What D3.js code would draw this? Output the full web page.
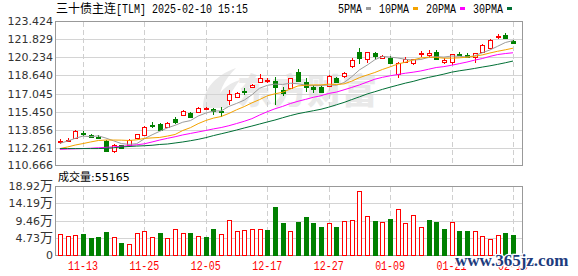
<!DOCTYPE html>
<html>
<head>
<meta charset="utf-8">
<script src="https://cdn.jsdelivr.net/npm/d3@7"></script>
<style>
  body { margin: 0; background: #fff; }
  svg { display: block; }
</style>
</head>
<body>
<svg></svg>
<script>
// trading days shown
var dates = ["11-08","11-11","11-12","11-13","11-14","11-15","11-18","11-19","11-20","11-21",
    "11-22","11-25","11-26","11-27","11-28","11-29","12-02","12-03","12-04","12-05",
    "12-06","12-09","12-10","12-11","12-12","12-13","12-16","12-17","12-18","12-19",
    "12-20","12-23","12-24","12-25","12-26","12-27","12-30","12-31","01-02","01-03",
    "01-06","01-07","01-08","01-09","01-10","01-13","01-14","01-15","01-16","01-17",
    "01-20","01-21","01-22","01-23","01-24","01-27","02-05","02-06","02-07","02-10"];

var openP = [112.80,112.93,113.17,113.61,113.35,113.22,112.89,111.98,112.47,112.51,
    113.10,113.39,114.29,114.32,114.14,114.84,115.15,115.37,115.44,115.68,
    115.65,115.52,116.47,116.71,117.28,117.64,118.08,118.21,118.17,117.35,
    117.55,118.96,118.08,117.64,117.64,117.70,118.44,118.58,119.49,120.72,
    120.05,120.58,120.14,120.14,118.73,119.82,119.70,120.55,120.43,120.67,
    119.82,119.84,120.54,120.43,120.23,120.67,121.07,121.99,122.19,121.69];
var highP = [113.00,113.09,113.83,113.74,113.48,113.35,112.95,112.60,112.51,113.00,
    113.48,114.18,114.54,114.49,114.54,114.98,115.55,115.46,115.86,115.90,
    115.74,115.86,117.35,117.20,117.53,117.92,118.73,118.38,118.52,117.64,
    118.41,119.17,118.44,117.79,117.70,118.63,118.54,118.96,120.14,121.02,
    120.72,120.67,120.46,120.34,119.84,120.23,120.11,120.81,120.87,120.87,
    120.14,120.52,120.72,120.58,120.61,121.36,121.80,122.25,122.34,121.75];
var lowP = [112.60,112.78,113.13,113.30,113.13,113.04,111.94,111.85,112.25,112.34,
    113.04,113.35,114.01,113.74,114.10,114.40,115.11,114.93,115.30,115.59,
    115.15,115.00,116.03,116.65,116.91,117.57,118.06,117.94,116.03,116.85,
    117.53,118.08,117.20,117.06,117.18,117.66,117.97,118.44,119.31,119.61,
    119.70,119.99,120.08,119.61,118.44,119.70,119.55,120.28,120.23,119.99,
    119.64,119.55,120.34,120.14,119.70,120.61,121.05,121.81,121.84,121.37];
var closeP = [112.83,112.96,113.74,113.48,113.26,113.16,111.98,112.51,112.29,112.91,
    113.44,114.14,114.26,113.83,114.45,114.58,115.48,114.98,115.79,115.79,
    115.50,115.49,116.97,117.11,117.25,117.82,118.38,118.25,117.64,117.11,
    118.38,118.14,117.64,117.41,117.20,118.58,118.03,118.82,119.99,120.19,
    120.67,120.37,120.34,119.70,119.75,120.10,120.05,120.58,120.63,120.05,
    119.95,120.49,120.50,120.28,120.58,121.31,121.75,122.10,121.90,121.46];

// moving averages as drawn
var ma5 = [112.66,112.86,113.10,113.30,113.25,113.32,113.12,112.88,112.64,112.57,
    112.63,113.06,113.41,113.72,114.02,114.25,114.52,114.66,115.06,115.32,
    115.51,115.51,115.91,116.17,116.46,116.93,117.51,117.76,117.87,117.84,
    117.95,117.90,117.78,117.74,117.75,117.79,117.77,118.01,118.52,119.12,
    119.54,120.01,120.31,120.25,120.17,120.05,119.99,120.04,120.22,120.28,
    120.25,120.34,120.32,120.25,120.36,120.63,120.88,121.20,121.53,121.70];
var ma10 = [112.20,112.34,112.51,112.64,112.78,112.91,112.95,112.95,112.94,112.91,
    112.97,113.09,113.14,113.18,113.30,113.44,113.79,114.04,114.39,114.67,
    114.88,115.02,115.29,115.61,115.89,116.22,116.51,116.84,117.02,117.15,
    117.44,117.71,117.77,117.80,117.80,117.87,117.84,117.89,118.13,118.44,
    118.67,118.89,119.16,119.39,119.64,119.80,120.00,120.17,120.24,120.22,
    120.15,120.16,120.18,120.24,120.32,120.44,120.61,120.76,120.89,121.03];
var ma20 = [112.13,112.16,112.18,112.20,112.23,112.27,112.31,112.35,112.40,112.46,
    112.53,112.62,112.78,112.95,113.10,113.24,113.40,113.53,113.66,113.79,
    113.93,114.05,114.21,114.40,114.60,114.83,115.15,115.44,115.70,115.91,
    116.16,116.36,116.53,116.71,116.85,117.05,117.17,117.37,117.58,117.80,
    118.05,118.30,118.47,118.60,118.72,118.83,118.92,119.03,119.18,119.33,
    119.41,119.53,119.67,119.81,119.98,120.12,120.31,120.47,120.56,120.63];
var ma30 = [112.20,112.20,112.20,112.20,112.20,112.20,112.22,112.27,112.34,112.38,
    112.42,112.45,112.49,112.56,112.60,112.69,112.78,112.89,113.01,113.16,
    113.34,113.50,113.66,113.83,114.01,114.18,114.36,114.54,114.71,114.91,
    115.10,115.27,115.40,115.53,115.66,115.84,116.05,116.26,116.51,116.75,
    117.00,117.20,117.41,117.60,117.78,117.96,118.11,118.30,118.46,118.60,
    118.75,118.92,119.04,119.14,119.25,119.37,119.48,119.61,119.75,119.90];

// volume and its colour (1 = red, 0 = green)
var volume = [57600,51300,54000,57600,46600,49400,63100,48500,32900,30200,
    60300,65800,48500,60300,45800,71300,60300,60300,52100,49400,
    71300,57600,96000,65800,67700,70500,71300,68500,131600,87700,
    65800,90500,104200,88600,76800,86900,76800,92400,96000,174700,
    106100,93200,90500,98700,125300,87700,109700,76000,96000,90500,
    71300,90500,65800,65800,65800,51300,43000,54000,60300,55165];
var volUp = [1,1,1,0,0,0,0,1,0,1, 1,1,1,0,1,1,1,0,1,0,
    0,1,1,1,1,1,1,0,0,0, 1,0,0,0,0,1,0,1,1,1,
    1,0,1,0,1,1,1,1,0,0, 0,1,0,0,1,1,1,1,0,0];

var priceTicks = [123.424,121.829,120.234,118.640,117.045,115.450,113.856,112.261,110.666];
var volTicks = [0,47300,94600,141900,189200];
var volTickLabels = ["0","4.73","9.46","14.19","18.92"];
var dateTicks = ["11-13","11-25","12-05","12-17","12-27","01-09","01-21","02-10"];
var maNames = ["5PMA","10PMA","20PMA","30PMA"];

window.onload = function () {

    var svg = d3.select("svg").attr("width", 578).attr("height", 276);

    var red = "#ff0000", green = "#008000";
    var maColors = ["#9c9c9c", "#f4a300", "#ff00ff", "#006f35"];

    // panel geometry
    var left = 55.5, right = 522.5;
    var pTop = 21, pBottom = 166, vTop = 186, vBottom = 255;

    var x = d3.scalePoint().domain(dates).range([59.9, 513]);
    var y = d3.scaleLinear().domain([110.666, 123.424]).range([pBottom, pTop]);
    var yv = d3.scaleLinear().domain([0, 189200]).range([vBottom, vTop]);

    var px = function (v) { return Math.round(v) + 0.5; };
    var idx = d3.range(dates.length);

    // mono text that mimics the narrow bitmap font
    var mono = function (sel, str, xx, yy, color) {
        return sel.append("text")
            .attr("x", xx).attr("y", yy)
            .attr("textLength", str.length * 6)
            .attr("lengthAdjust", "spacingAndGlyphs")
            .style("font-family", "Liberation Mono")
            .style("font-size", "12px")
            .style("fill", color || "#000")
            .text(str);
    };

    // faint logo watermark
    var logo = svg.append("g").style("fill", "#e9e9e9");
    logo.append("path")
        .attr("d", "M203,108 C203,90 214,76 236,68 C224,80 218,92 218,108 Z M214,108 C216,94 226,84 240,80 C232,90 228,98 228,108 Z");
    logo.append("text")
        .attr("x", 237).attr("y", 104)
        .style("font-family", "Noto Sans CJK SC")
        .style("font-weight", 900)
        .style("font-size", "35px")
        .text("东方财富");

    // horizontal grid
    svg.selectAll(".pgrid")
        .data(priceTicks.slice(1, -1))
        .enter().append("line")
        .attr("x1", left).attr("x2", right)
        .attr("y1", function (d) { return px(y(d)); })
        .attr("y2", function (d) { return px(y(d)); })
        .style("stroke", "#d4d4d4");

    svg.selectAll(".vgrid")
        .data(volTicks.slice(1, -1))
        .enter().append("line")
        .attr("x1", left).attr("x2", right)
        .attr("y1", function (d) { return px(yv(d)); })
        .attr("y2", function (d) { return px(yv(d)); })
        .style("stroke", "#d4d4d4");

    // dashed date lines in both panels
    [[pTop, pBottom], [vTop, vBottom]].forEach(function (r) {
        svg.selectAll(null)
            .data(dateTicks)
            .enter().append("line")
            .attr("x1", function (d) { return px(x(d)); })
            .attr("x2", function (d) { return px(x(d)); })
            .attr("y1", r[0] + 1).attr("y2", r[1])
            .style("stroke", "#cfcfcf")
            .style("stroke-dasharray", "5,3");
    });

    // frames
    svg.append("rect")
        .attr("x", left).attr("y", pTop + 0.5)
        .attr("width", right - left).attr("height", pBottom - pTop - 1)
        .style("fill", "none").style("stroke", "#999");
    svg.append("rect")
        .attr("x", left).attr("y", vTop + 0.5)
        .attr("width", right - left).attr("height", vBottom - vTop)
        .style("fill", "none").style("stroke", "#999");

    // candles
    var candles = svg.append("g").style("shape-rendering", "crispEdges");
    var up = function (i) { return closeP[i] >= openP[i]; };

    candles.selectAll("line")
        .data(idx)
        .enter().append("line")
        .attr("x1", function (i) { return px(x(dates[i])); })
        .attr("x2", function (i) { return px(x(dates[i])); })
        .attr("y1", function (i) { return Math.round(y(highP[i])); })
        .attr("y2", function (i) { return Math.round(y(lowP[i])); })
        .style("stroke", function (i) { return up(i) ? red : green; });

    candles.selectAll("rect")
        .data(idx)
        .enter().append("rect")
        .attr("x", function (i) { return Math.round(x(dates[i])) - 1.5; })
        .attr("width", 4)
        .attr("y", function (i) { return Math.round(y(Math.max(openP[i], closeP[i]))) + 0.5; })
        .attr("height", function (i) {
            var h = Math.round(y(Math.min(openP[i], closeP[i]))) - Math.round(y(Math.max(openP[i], closeP[i])));
            return Math.max(1, h);
        })
        .style("fill", function (i) { return up(i) ? "#fff" : green; })
        .style("stroke", function (i) { return up(i) ? red : green; });

    // moving average lines
    [ma5, ma10, ma20, ma30].forEach(function (series, k) {
        var line = d3.line()
            .x(function (d, i) { return x(dates[i]); })
            .y(function (d) { return y(d); });
        svg.append("path")
            .datum(series)
            .attr("d", line)
            .style("fill", "none")
            .style("stroke", maColors[k])
            .style("stroke-width", 1);
    });

    // volume bars
    svg.append("g")
        .style("shape-rendering", "crispEdges")
        .selectAll("rect")
        .data(idx)
        .enter().append("rect")
        .attr("x", function (i) { return Math.round(x(dates[i])) - 1.5; })
        .attr("width", 4)
        .attr("y", function (i) { return Math.round(yv(volume[i])) + 0.5; })
        .attr("height", function (i) { return vBottom - Math.round(yv(volume[i])); })
        .style("fill", function (i) { return volUp[i] ? "#fff" : green; })
        .style("stroke", function (i) { return volUp[i] ? red : green; });

    // price axis labels
    svg.selectAll(".plabel")
        .data(priceTicks)
        .enter().append("text")
        .attr("x", 53)
        .attr("y", function (d, i) { return i === priceTicks.length - 1 ? 169 : y(d) + 4; })
        .attr("text-anchor", "end")
        .style("font-family", "DejaVu Sans")
        .style("font-size", "11px")
        .style("fill", "#333")
        .text(d3.format(".3f"));

    // volume axis labels
    var vl = svg.selectAll(".vlabel")
        .data(volTicks)
        .enter().append("text")
        .attr("x", 53)
        .attr("y", function (d) { return yv(d) + 4; })
        .attr("text-anchor", "end")
        .style("font-family", "DejaVu Sans")
        .style("font-size", "11px")
        .style("fill", "#333");
    vl.append("tspan").text(function (d, i) { return volTickLabels[i]; });
    vl.append("tspan")
        .style("font-family", "Noto Sans CJK SC")
        .style("font-size", "13px")
        .text(function (d) { return d > 0 ? "万" : ""; });

    // date labels
    dateTicks.forEach(function (d) {
        mono(svg, d, x(d) - 15, 270, red);
    });

    // title and legend
    svg.append("text")
        .attr("x", 56).attr("y", 12.5)
        .style("font-family", "Noto Sans CJK SC")
        .style("font-size", "12px")
        .text("三十债主连");
    mono(svg, "[TLM] 2025-02-10 15:15", 116, 12.5);

    var lx = 338;
    maNames.forEach(function (name, k) {
        mono(svg, name, lx, 12.5);
        lx += name.length * 6 + 4;
        svg.append("rect")
            .attr("x", lx).attr("y", 7)
            .attr("width", 5).attr("height", 3)
            .style("fill", maColors[k]);
        lx += 13;
    });

    // volume caption
    var cap = svg.append("text")
        .attr("x", 58).attr("y", 181)
        .style("font-size", "11px");
    cap.append("tspan").style("font-family", "Noto Sans CJK SC").text("成交量");
    cap.append("tspan").style("font-family", "DejaVu Sans").text(":" + volume[volume.length - 1]);

    // site watermark
    svg.append("text")
        .attr("x", 455).attr("y", 266)
        .style("font-family", "Liberation Serif")
        .style("font-weight", "bold")
        .style("font-size", "17px")
        .style("fill", "#1d3c7e")
        .style("stroke", "#fff")
        .style("stroke-width", 2.5)
        .style("paint-order", "stroke")
        .text("www.365jz.com");
};
</script>
</body>
</html>
